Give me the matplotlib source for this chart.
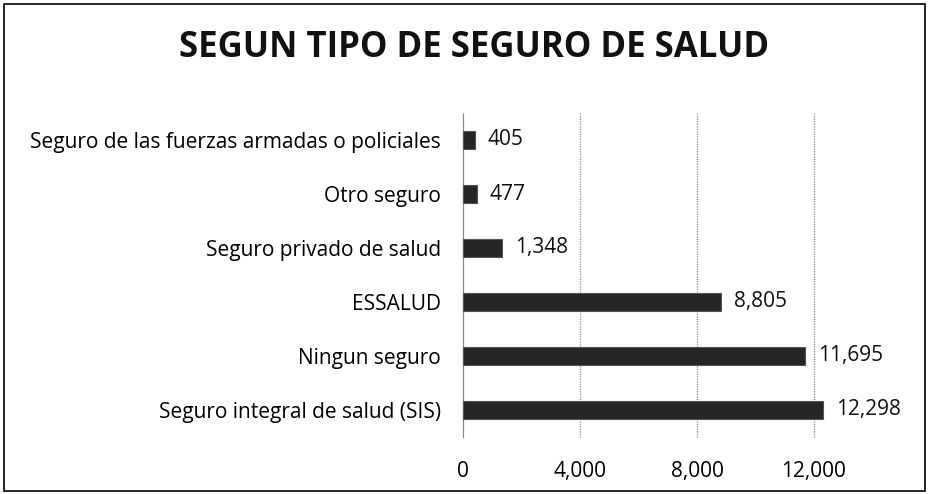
import matplotlib
matplotlib.use('Agg')
import matplotlib.pyplot as plt
from matplotlib.patches import Rectangle
from matplotlib.transforms import offset_copy

# datos
categorias = ['Seguro integral de salud (SIS)', 'Ningun seguro', 'ESSALUD',
              'Seguro privado de salud', 'Otro seguro',
              'Seguro de las fuerzas armadas o policiales']
valores = [12298, 11695, 8805, 1348, 477, 405]
ticks_x = [0, 4000, 8000, 12000]
titulo = 'SEGUN TIPO DE SEGURO DE SALUD'

plt.rcParams['font.family'] = ['Open Sans', 'DejaVu Sans']

fig = plt.figure(figsize=(9.29, 4.94), dpi=100)
# marco exterior
fig.patches.append(Rectangle((0.004, 0.006), 0.992, 0.986, transform=fig.transFigure,
                             fill=False, edgecolor='black', linewidth=1.2))

ax = fig.add_axes([463 / 929, 1 - 437 / 494, (814 - 463) / 929, (437 - 113) / 494])

y = range(len(categorias))
ax.barh(y, valores, height=0.34, color='#262626', edgecolor='#555555', linewidth=0.8,
        clip_on=False, zorder=3)
etiq = offset_copy(ax.transData, fig=fig, x=13, y=0, units='dots')
for yi, v in zip(y, valores):
    ax.text(v, yi, f'{v:,}', va='center', ha='left', fontsize=15, color='#111111',
            transform=etiq, clip_on=False)

ax.set_xlim(0, 12000)
ax.set_ylim(-0.5, len(categorias) - 0.5)
ax.set_xticks(ticks_x)
ax.set_xticklabels([f'{t:,}' for t in ticks_x], fontsize=15)
ax.set_yticks(list(y))
ax.set_yticklabels(categorias, fontsize=15)
ax.tick_params(length=0)
ax.tick_params(axis='y', pad=16)
ax.tick_params(axis='x', pad=17)
ax.grid(axis='x', color='#888888', linestyle=(0, (1, 1)), linewidth=0.9, zorder=0)
for gl in ax.get_xgridlines():
    gl.set_clip_on(False)
for s in ['top', 'right', 'bottom']:
    ax.spines[s].set_visible(False)
ax.spines['left'].set_color('#888888')
ax.spines['left'].set_linestyle((0, (1, 1)))

fig.text(474 / 929, 1 - 48 / 494, titulo, ha='center', va='center',
         fontsize=25, fontweight='bold', color='#111111')

fig.savefig('out.png', dpi=100)
